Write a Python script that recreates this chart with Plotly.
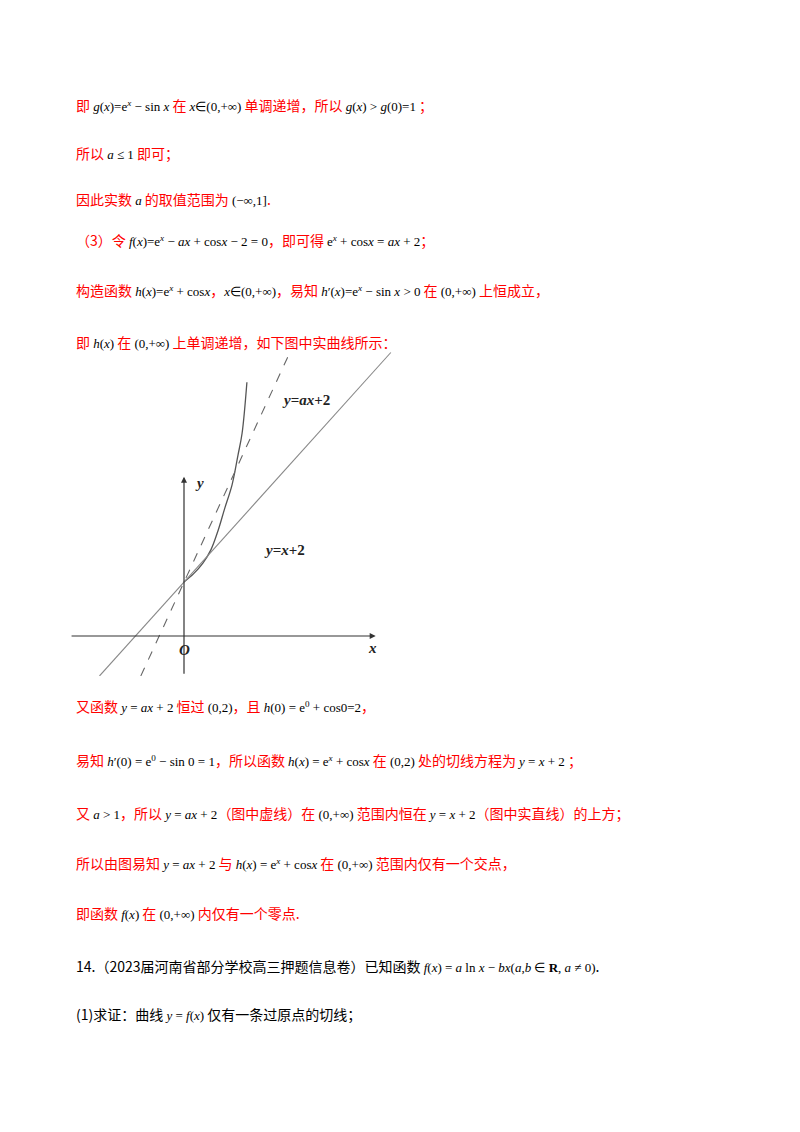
import plotly.graph_objects as go

W, H = 800, 1132
OFF = 8  # page offset compensation
# chart data (illustrative units)
curve_x = [0, 0.35, 0.7, 1.0, 1.26, 1.5, 1.78, 2.0, 2.15, 2.33]
curve_y = [2, 2.3, 2.7, 3.2, 3.9, 4.7, 5.6, 6.7, 7.5, 9.4]
solid_x = [-3.13, 7.66]
solid_y = [-1.48, 10.5]
dash_x = [-1.6, 3.92]
dash_y = [-1.48, 10.5]

X0, X1 = 70, 392
Y0, Y1 = 352, 676
ox, oy, u = 184, 636, 27.0
xr = [(X0 - ox) / u, (X1 - ox) / u]
yr = [(oy - Y1) / u, (oy - Y0) / u]

fig = go.Figure()
fig.add_trace(go.Scatter(x=curve_x, y=curve_y, mode="lines", line=dict(color="#555", width=1.3, shape="spline"), xaxis="x2", yaxis="y2"))
fig.add_trace(go.Scatter(x=solid_x, y=solid_y, mode="lines", line=dict(color="#888", width=1.1), xaxis="x2", yaxis="y2"))
fig.add_trace(go.Scatter(x=dash_x, y=dash_y, mode="lines", line=dict(color="#666", width=1.1, dash="dash"), xaxis="x2", yaxis="y2"))

def P(x, y):
    return (x - OFF) / W, 1 - (y - OFF) / H

ann = []
ann.append(dict(x=7.1, y=0, ax=-4.22, ay=0, xref="x2", yref="y2", axref="x2", ayref="y2", showarrow=True, arrowhead=2, arrowsize=1, arrowwidth=1.2, arrowcolor="#333", text=""))
ann.append(dict(x=0, y=5.9, ax=0, ay=-1.45, xref="x2", yref="y2", axref="x2", ayref="y2", showarrow=True, arrowhead=2, arrowsize=1, arrowwidth=1.2, arrowcolor="#333", text=""))
serif = "Liberation Serif"
for t, px, py in [("<b><i>y</i></b>", 193, 483), ("<b><i>x</i></b>", 372, 648), ("<b><i>O</i></b>", 177, 650),
                  ("<b><i>y</i>=<i>ax</i>+2</b>", 306, 400), ("<b><i>y</i>=<i>x</i>+2</b>", 262, 550)]:
    x, y = P(px, py)
    ann.append(dict(x=x, y=y, xref="paper", yref="paper", text=t, showarrow=False, font=dict(family=serif, size=15, color="#222")))

R = "#ff0000"
def m(s):
    return "<span style='color:#000;font-family:Liberation Serif;font-size:13px'>" + s + "</span>"

lines = [
    (105, R, "即 " + m("<i>g</i>(<i>x</i>)=e<sup><i>x</i></sup> − sin <i>x</i>") + " 在 " + m("<i>x</i>∈(0,+∞)") + " 单调递增，所以 " + m("<i>g</i>(<i>x</i>) > <i>g</i>(0)=1") + " ；"),
    (153, R, "所以 " + m("<i>a</i> ≤ 1") + " 即可；"),
    (199, R, "因此实数 " + m("<i>a</i>") + " 的取值范围为 " + m("(−∞,1]") + "."),
    (240, R, "（3）令 " + m("<i>f</i>(<i>x</i>)=e<sup><i>x</i></sup> − <i>ax</i> + cos<i>x</i> − 2 = 0") + "，即可得 " + m("e<sup><i>x</i></sup> + cos<i>x</i> = <i>ax</i> + 2") + "；"),
    (290, R, "构造函数 " + m("<i>h</i>(<i>x</i>)=e<sup><i>x</i></sup> + cos<i>x</i>") + "，" + m("<i>x</i>∈(0,+∞)") + "，易知 " + m("<i>h</i>′(<i>x</i>)=e<sup><i>x</i></sup> − sin <i>x</i> > 0") + " 在 " + m("(0,+∞)") + " 上恒成立，"),
    (342, R, "即 " + m("<i>h</i>(<i>x</i>)") + " 在 " + m("(0,+∞)") + " 上单调递增，如下图中实曲线所示："),
    (706, R, "又函数 " + m("<i>y</i> = <i>ax</i> + 2") + " 恒过 " + m("(0,2)") + "，且 " + m("<i>h</i>(0) = e<sup>0</sup> + cos0=2") + "，"),
    (760, R, "易知 " + m("<i>h</i>′(0) = e<sup>0</sup> − sin 0 = 1") + "，所以函数 " + m("<i>h</i>(<i>x</i>) = e<sup><i>x</i></sup> + cos<i>x</i>") + " 在 " + m("(0,2)") + " 处的切线方程为 " + m("<i>y</i> = <i>x</i> + 2") + " ；"),
    (813, R, "又 " + m("<i>a</i> > 1") + "，所以 " + m("<i>y</i> = <i>ax</i> + 2") + "（图中虚线）在 " + m("(0,+∞)") + " 范围内恒在 " + m("<i>y</i> = <i>x</i> + 2") + "（图中实直线）的上方；"),
    (863, R, "所以由图易知 " + m("<i>y</i> = <i>ax</i> + 2") + " 与 " + m("<i>h</i>(<i>x</i>) = e<sup><i>x</i></sup> + cos<i>x</i>") + " 在 " + m("(0,+∞)") + " 范围内仅有一个交点，"),
    (913, R, "即函数 " + m("<i>f</i>(<i>x</i>)") + " 在 " + m("(0,+∞)") + " 内仅有一个零点."),
    (966, "#000", "14.（2023届河南省部分学校高三押题信息卷）已知函数 " + m("<i>f</i>(<i>x</i>) = <i>a</i> ln <i>x</i> − <i>bx</i>(<i>a</i>,<i>b</i> ∈ <b>R</b>, <i>a</i> ≠ 0)") + "."),
    (1014, "#000", "(1)求证：曲线 " + m("<i>y</i> = <i>f</i>(<i>x</i>)") + " 仅有一条过原点的切线；"),
]
for py, col, t in lines:
    x, y = P(74, py)
    ann.append(dict(x=x, y=y, xref="paper", yref="paper", xanchor="left", yanchor="middle", text=t, showarrow=False,
                    font=dict(family="Noto Sans CJK SC", size=14, color=col)))

fig.update_layout(
    width=W, height=H, margin=dict(l=0, r=0, t=0, b=0), paper_bgcolor="white", plot_bgcolor="rgba(0,0,0,0)",
    showlegend=False,
    xaxis=dict(visible=False, range=[0, 1]), yaxis=dict(visible=False, range=[0, 1]),
    xaxis2=dict(visible=False, range=xr, domain=[(X0 - OFF) / W, (X1 - OFF) / W], anchor="y2"),
    yaxis2=dict(visible=False, range=yr, domain=[1 - (Y1 - OFF) / H, 1 - (Y0 - OFF) / H], anchor="x2"),
    annotations=ann,
)
fig.write_html("out.html")
